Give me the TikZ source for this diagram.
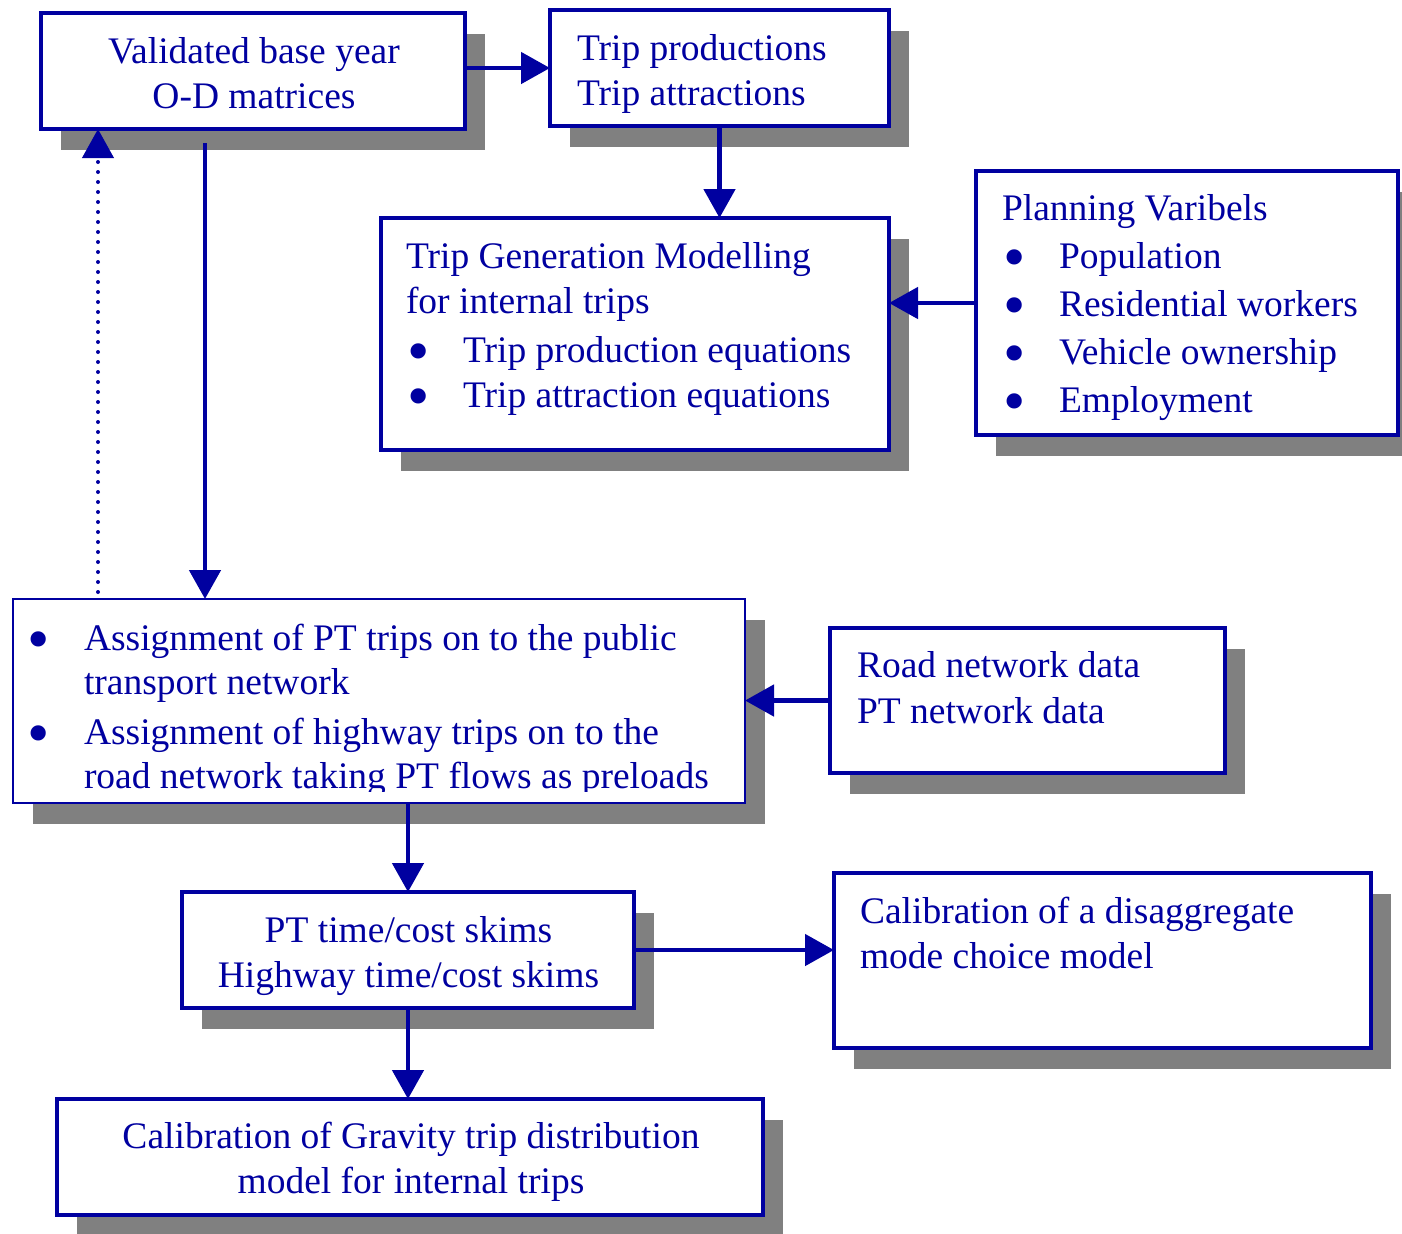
\documentclass[tikz,border=0pt]{standalone}
\usepackage{fontspec}
\setmainfont{Liberation Serif}
\usetikzlibrary{arrows.meta,shadows}
\definecolor{dblue}{RGB}{0,0,160}
\definecolor{shade}{RGB}{128,128,128}
% font size with a chosen line spacing (pt)
\newcommand\fsz[1]{\fontsize{18.75pt}{#1pt}\selectfont}
% fixed-height strut for the first line of each text block
\newcommand\tp{\rule{0pt}{15pt}}
% bullet item marker
\newcommand\bul{\makebox[28.5pt][l]{\hspace{0.5pt}\smash{\raisebox{-5.2pt}{\scalebox{1.7}{\textbullet}}}}}

\begin{document}
\begin{tikzpicture}[x=0.5pt,y=-0.5pt,
  boxsz/.style 2 args={minimum width=#1*0.5pt, minimum height=#2*0.5pt},
  flowbox/.style={draw=dblue, line width=2pt, fill=white, inner sep=0pt, outer sep=0pt,
     drop shadow={shadow xshift=10pt, shadow yshift=-10.5pt, fill=shade, opacity=1}},
  thinbox/.style={flowbox, line width=1.3pt},
  txt/.style={inner sep=0pt, outer sep=0pt, text=dblue},
  arr/.style={draw=dblue, line width=2.4pt, -{Triangle[length=14.5pt,width=15.5pt]}},
  dotarr/.style={draw=dblue, line width=2pt, line cap=round, dash pattern=on 0pt off 5pt,
     -{Triangle[length=14.5pt,width=15.5pt]}},
]
\useasboundingbox (0,0) rectangle (1402,1233);
\fill[white] (0,0) rectangle (1402,1233);

% boxes
\node[flowbox, boxsz={424}{116}] (val) at (253,71) {};
\node[flowbox, boxsz={339}{116}] (prod) at (719.5,68) {};
\node[flowbox, boxsz={508}{232}] (gen) at (635,334) {};
\node[flowbox, boxsz={422}{264}] (plan) at (1187,303) {};
\node[thinbox, boxsz={732}{204}] (assign) at (379,701) {};
\node[flowbox, boxsz={395}{145}] (road) at (1027.5,700.5) {};
\node[flowbox, boxsz={452}{116}] (skims) at (408,950) {};
\node[flowbox, boxsz={537}{175}] (disagg) at (1102.5,960.5) {};
\node[flowbox, boxsz={706}{116}] (grav) at (410,1157) {};

% box texts
\node[txt, anchor=north, align=center, font=\fsz{22.5}] (val-t) at (254,33)
  {\tp Validated base year\\O-D matrices};
\node[txt, anchor=north west, align=left, font=\fsz{22.5}] (prod-t) at (577,30)
  {\tp Trip productions\\Trip attractions};
\node[txt, anchor=north west, align=left, font=\fsz{22.5}] (gen-t) at (406,238)
  {\tp Trip Generation Modelling\\for internal trips\\[2pt]\bul Trip production equations\\\bul Trip attraction equations};
\node[txt, anchor=north west, align=left, font=\fsz{24}] (plan-t) at (1002,190)
  {\tp Planning Varibels\\\bul Population\\\bul Residential workers\\\bul Vehicle ownership\\\bul Employment};
\begin{scope}
  \clip (assign.north west) rectangle (745,791);
  \node[txt, anchor=north west, align=left, font=\fsz{22}] (assign-t) at (27,620)
    {\tp\bul Assignment of PT trips on to the public\\\hspace{28.5pt}transport network\\[3pt]\bul Assignment of highway trips on to the\\\hspace{28.5pt}road network taking PT flows as preloads};
\end{scope}
\node[txt, anchor=north west, align=left, font=\fsz{23}] (road-t) at (857,647)
  {\tp Road network data\\PT network data};
\node[txt, anchor=north, align=center, font=\fsz{22.5}] (skims-t) at (408.5,912)
  {\tp PT time/cost skims\\Highway time/cost skims};
\node[txt, anchor=north west, align=left, font=\fsz{22.5}] (disagg-t) at (860,893)
  {\tp Calibration of a disaggregate\\mode choice model};
\node[txt, anchor=north, align=center, font=\fsz{22.5}] (grav-t) at (411,1118)
  {\tp Calibration of Gravity trip distribution\\model for internal trips};

% connectors
\draw[arr] (val.east |- prod.west) -- (prod.west);
\draw[arr] (prod.south) -- (prod.south |- gen.north);
\draw[arr] (plan.west) -- (plan.west -| gen.east);
\coordinate (valout) at (205,143);
\draw[arr] (valout) -- (valout |- assign.north);
\coordinate (fback) at (98,592);
\draw[dotarr] (fback) -- (fback |- val.south);
\draw[arr] (road.west) -- (road.west -| assign.east);
\draw[arr] (assign.south -| skims.north) -- (skims.north);
\draw[arr] (skims.east) -- (skims.east -| disagg.west);
\draw[arr] (skims.south) -- (skims.south |- grav.north);
\end{tikzpicture}
\end{document}
